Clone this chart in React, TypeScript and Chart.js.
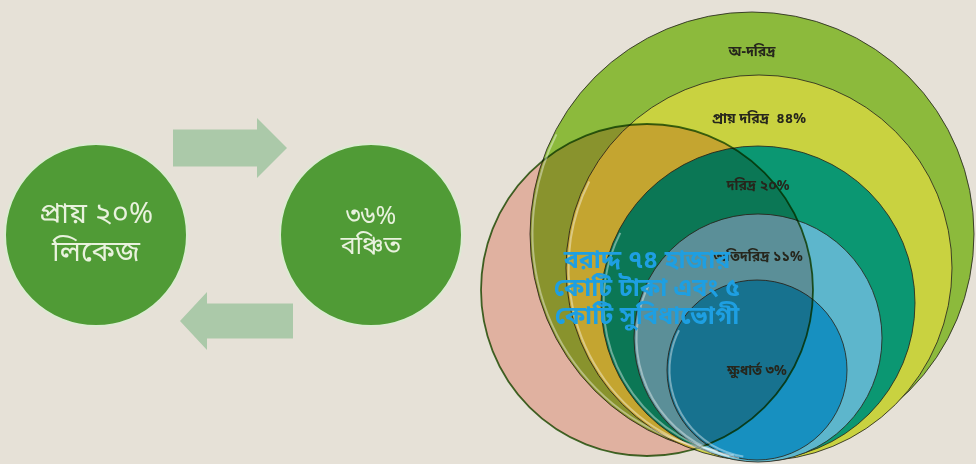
import { useEffect, useRef } from 'react';
import { Chart, registerables, BubbleController } from 'chart.js';

Chart.register(...registerables);

// Bubble controller that does not reserve layout padding for bubble radii
class FlatBubbleController extends BubbleController {
  getMaxOverflow() {
    return 0 as any;
  }
}
(FlatBubbleController as any).id = 'flatBubble';
(FlatBubbleController as any).defaults = (BubbleController as any).defaults;
(FlatBubbleController as any).overrides = (BubbleController as any).overrides;
Chart.register(FlatBubbleController as any);

const W = 976;
const H = 464;
const BG = '#e6e1d7';

// Concentric poverty rings (outer → inner)
const VENN_LABELS = ['অ-দরিদ্র', 'প্রায় দরিদ্র  ৪৪%', 'দরিদ্র ২০%', 'অতিদরিদ্র ১১%', 'ক্ষুধার্ত ৩%'];
const VENN_X = [752, 759, 758, 758, 757];
const VENN_Y = [234, 268, 303, 338, 370];
const VENN_R = [222, 193, 157, 124, 90];
const VENN_LABEL_Y = [53, 120, 187, 258, 372];
const VENN_COLORS = ['#8cba3c', '#c9d240', '#0b9772', '#5db6cc', '#1790c0'];

// Allocation circle (overlay)
const ALLOC_X = [647];
const ALLOC_Y = [290];
const ALLOC_R = [166];
const ALLOC_LINES = ['বরাদ্দ ৭৪ হাজার', 'কোটি টাকা এবং ৫', 'কোটি সুবিধাভোগী'];
const ALLOC_TEXT_Y = [263, 291, 319];

// Leakage cycle circles
const CYCLE_X = [96, 371];
const CYCLE_Y = [235, 235];
const CYCLE_R = [91, 91];
const CYCLE_TEXT = [
  ['প্রায় ২০%', 'লিকেজ'],
  ['৩৬%', 'বঞ্চিত'],
];
const CYCLE_TEXT_Y = [
  [217, 255],
  [219, 249],
];
const CYCLE_FONT = [29, 25];

// Arrows: [tailX, tipX, centerY, shaftHalf, headHalf, headLen]
const ARROWS = [
  [173, 287, 148, 18.5, 30, 30],
  [293, 180, 321, 17.5, 29, 27],
];
const ARROW_COLOR = '#abc9a9';

const FONT = '"Noto Sans Bengali", "Lohit Bengali", "Noto Sans", "FreeSans", sans-serif';

const unit = (chart: any) => {
  const x = chart.scales.x;
  const v = Math.abs(x.getPixelForValue(1) - x.getPixelForValue(0));
  return isFinite(v) && v > 0 ? v : 1;
};

const bgPlugin = {
  id: 'bg',
  beforeDraw(chart: any) {
    const { ctx } = chart;
    ctx.save();
    ctx.fillStyle = BG;
    ctx.fillRect(0, 0, chart.width, chart.height);
    ctx.restore();
  },
};

const arrowPlugin = {
  id: 'arrows',
  beforeDatasetsDraw(chart: any) {
    const { ctx } = chart;
    const sx = chart.scales.x;
    const sy = chart.scales.y;
    ctx.save();
    ctx.fillStyle = ARROW_COLOR;
    for (const [tail, tip, cy, sh, hh, hl] of ARROWS) {
      const dir = tip > tail ? 1 : -1;
      const base = tip - dir * hl;
      const pts = [
        [tail, cy - sh],
        [base, cy - sh],
        [base, cy - hh],
        [tip, cy],
        [base, cy + hh],
        [base, cy + sh],
        [tail, cy + sh],
      ];
      ctx.beginPath();
      pts.forEach(([x, y], i) => {
        const px = sx.getPixelForValue(x);
        const py = sy.getPixelForValue(y);
        if (i === 0) ctx.moveTo(px, py);
        else ctx.lineTo(px, py);
      });
      ctx.closePath();
      ctx.fill();
    }
    ctx.restore();
  },
};

const multiplyPlugin = {
  id: 'multiply',
  beforeDatasetDraw(chart: any, args: any) {
    if (chart.data.datasets[args.index].label === 'alloc') {
      chart.ctx.save();
      chart.ctx.globalCompositeOperation = 'multiply';
    }
  },
  afterDatasetDraw(chart: any, args: any) {
    if (chart.data.datasets[args.index].label === 'alloc') {
      chart.ctx.restore();
    }
  },
};

const textPlugin = {
  id: 'texts',
  afterDatasetsDraw(chart: any) {
    const { ctx } = chart;
    const sx = chart.scales.x;
    const sy = chart.scales.y;
    const u = unit(chart);
    ctx.save();
    ctx.textAlign = 'center';
    ctx.textBaseline = 'middle';

    // ring highlights (bevel)
    VENN_R.forEach((r, i) => {
      ctx.beginPath();
      ctx.strokeStyle = 'rgba(255,255,255,0.4)';
      ctx.lineWidth = 2;
      ctx.arc(sx.getPixelForValue(VENN_X[i]), sy.getPixelForValue(VENN_Y[i]), r * u - 2.5, Math.PI * 0.55, Math.PI * 1.15);
      ctx.stroke();
    });

    // ring labels
    ctx.fillStyle = '#26261c';
    ctx.font = `bold ${Math.round(14 * u)}px ${FONT}`;
    VENN_LABELS.forEach((t, i) => {
      ctx.fillText(t, sx.getPixelForValue(VENN_X[i]), sy.getPixelForValue(VENN_LABEL_Y[i]));
    });

    // cycle labels
    ctx.fillStyle = '#e9f2de';
    CYCLE_TEXT.forEach((lines, i) => {
      ctx.font = `${Math.round(CYCLE_FONT[i] * u)}px ${FONT}`;
      lines.forEach((t, j) => {
        ctx.fillText(t, sx.getPixelForValue(CYCLE_X[i]), sy.getPixelForValue(CYCLE_TEXT_Y[i][j]));
      });
    });

    // allocation text
    ctx.fillStyle = '#1e9fe2';
    ctx.font = `bold ${Math.round(25 * u)}px ${FONT}`;
    ALLOC_LINES.forEach((t, j) => {
      ctx.fillText(t, sx.getPixelForValue(ALLOC_X[0]), sy.getPixelForValue(ALLOC_TEXT_Y[j]));
    });
    ctx.restore();
  },
};

const bubbles = (xs: number[], ys: number[], rs: number[], u: number) =>
  xs.map((x, i) => ({ x, y: ys[i], r: rs[i] * u }));

export default function App() {
  const ref = useRef<HTMLCanvasElement | null>(null);

  useEffect(() => {
    if (!ref.current) return;
    const chart = new Chart(ref.current, {
      type: 'flatBubble' as any,
      data: {
        datasets: [
          {
            label: 'cycle',
            order: 1,
            data: bubbles(CYCLE_X, CYCLE_Y, CYCLE_R, 1),
            backgroundColor: '#509b36',
            borderColor: '#dcebd2',
            borderWidth: 2,
            clip: false,
          } as any,
          {
            label: 'alloc',
            order: 2,
            data: bubbles(ALLOC_X, ALLOC_Y, ALLOC_R, 1),
            backgroundColor: 'rgb(249,201,190)',
            borderColor: 'rgb(70,120,45)',
            borderWidth: 1.8,
            clip: false,
          } as any,
          {
            label: 'rings',
            order: 3,
            data: bubbles(VENN_X, VENN_Y, VENN_R, 1),
            backgroundColor: VENN_COLORS,
            borderColor: 'rgba(40,40,30,0.85)',
            borderWidth: 1,
            clip: false,
          } as any,
        ],
      },
      options: {
        responsive: false,
        animation: false,
        events: [],
        layout: { padding: 0 },
        plugins: {
          legend: { display: false },
          tooltip: { enabled: false },
        },
        scales: {
          x: { type: 'linear', min: 0, max: W, display: false },
          y: { type: 'linear', min: 0, max: H, reverse: true, display: false },
        },
      },
      plugins: [bgPlugin, arrowPlugin, multiplyPlugin, textPlugin],
    });
    // convert bubble radii from data units to pixels via the x scale
    const u = unit(chart);
    (chart.data.datasets[0] as any).data = bubbles(CYCLE_X, CYCLE_Y, CYCLE_R, u);
    (chart.data.datasets[1] as any).data = bubbles(ALLOC_X, ALLOC_Y, ALLOC_R, u);
    (chart.data.datasets[2] as any).data = bubbles(VENN_X, VENN_Y, VENN_R, u);
    chart.update();
    return () => chart.destroy();
  }, []);

  return (
    <div style={{ position: 'fixed', left: 0, top: 0, width: W, height: H, background: BG }}>
      <canvas ref={ref} width={W} height={H} style={{ display: 'block', width: W, height: H }} />
    </div>
  );
}
